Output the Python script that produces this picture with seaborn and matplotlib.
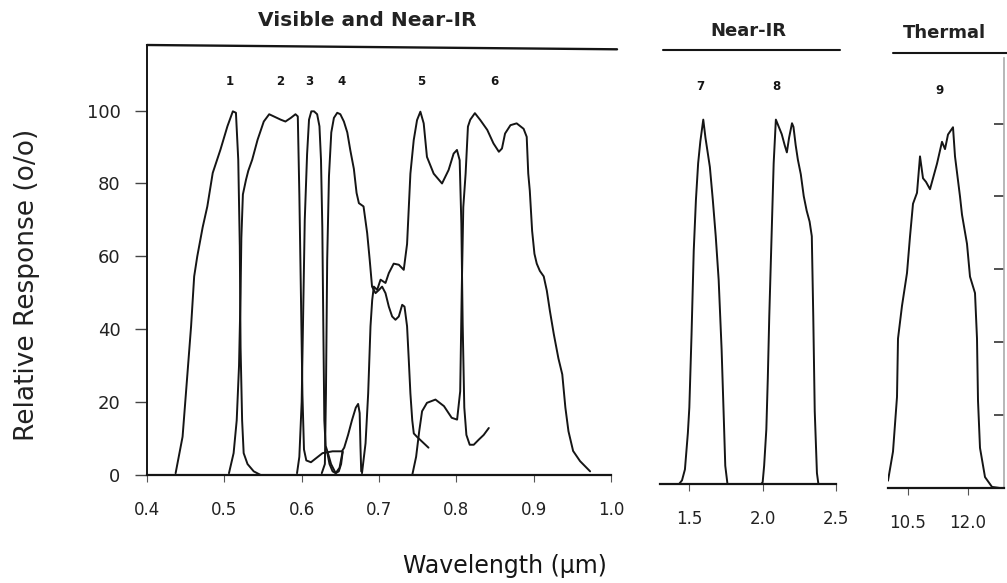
import numpy as np
import pandas as pd
import seaborn as sns
import matplotlib.pyplot as plt

# Relative response (%), one trace per band
band1_x = [0.437, 0.446, 0.450, 0.457, 0.461, 0.465, 0.472, 0.478, 0.485, 0.495, 0.504, 0.511, 0.515,
           0.518, 0.520, 0.521, 0.523, 0.525, 0.530, 0.538, 0.547]
band1_y = [0.5, 10.5, 21.5, 40.8, 54.5, 60, 68, 73.7, 82.9, 89.3, 95.7, 99.8, 99.4,
           86.5, 62.7, 35, 15, 6, 3, 1, 0]

band2_x = [0.506, 0.512, 0.516, 0.519, 0.521, 0.522, 0.524, 0.528, 0.531, 0.536, 0.543, 0.551, 0.558,
           0.564, 0.573, 0.579, 0.586, 0.592, 0.595, 0.597, 0.599, 0.601, 0.603, 0.606, 0.612, 0.618,
           0.627, 0.640, 0.652, 0.655, 0.660, 0.665, 0.670, 0.673, 0.675, 0.676, 0.677]
band2_y = [0.5, 6, 15, 30, 50, 65, 77, 81, 83.5, 86.5, 92, 97, 99,
           98.4, 97.5, 97, 98, 99, 98.4, 77, 50, 22, 7, 4, 3.5, 4.5,
           6, 6.5, 6.5, 7.5, 11, 15, 18.5, 19.5, 17, 8, 1]

band3_x = [0.594, 0.597, 0.600, 0.602, 0.604, 0.607, 0.6095, 0.6125, 0.616, 0.620, 0.623, 0.625,
           0.6267, 0.628, 0.6293, 0.631, 0.634, 0.638, 0.644, 0.649, 0.653]
band3_y = [0.5, 5, 20, 45, 70, 88, 97.5, 99.8, 99.8, 99, 95.7, 86.5,
           68, 40.8, 15, 8, 6, 3, 0.5, 2, 6.5]

band4_x = [0.626, 0.630, 0.6314, 0.633, 0.6353, 0.6383, 0.6417, 0.646, 0.650, 0.6546, 0.659, 0.663,
           0.6675, 0.671, 0.674, 0.680, 0.6847, 0.688, 0.691, 0.6955, 0.700, 0.704, 0.7084, 0.7127,
           0.717, 0.7213, 0.7256, 0.730, 0.733, 0.7363, 0.7385, 0.7406, 0.743, 0.745, 0.749, 0.758, 0.764]
band4_y = [0.5, 3, 22.4, 59, 82, 94, 98, 99.4, 99, 97, 94, 89,
           84, 77.4, 74.6, 73.7, 66.4, 59, 51.7, 49.9, 50.8, 51.7, 49.9, 46.2,
           43.5, 42.6, 43.5, 46.7, 46.2, 40.8, 31.6, 22.4, 15, 11.4, 10.5, 8.7, 7.5]

band5_x = [0.678, 0.6826, 0.686, 0.689, 0.6912, 0.6933, 0.6976, 0.702, 0.7084, 0.7127, 0.719, 0.7256,
           0.732, 0.7363, 0.7406, 0.7449, 0.7492, 0.7535, 0.7578, 0.762, 0.7707, 0.7815, 0.790, 0.7965,
           0.8008, 0.8043, 0.8065, 0.8082, 0.8103, 0.813, 0.8173, 0.8225, 0.829, 0.8354, 0.842]
band5_y = [0.5, 8.7, 22.4, 40.8, 48, 51.7, 50.8, 53.6, 52.7, 55.4, 58, 57.7,
           56.3, 63.4, 82.7, 91.9, 97.4, 99.7, 96.5, 87.3, 82.7, 80, 83.7, 88.2,
           89.2, 86.4, 69, 41.4, 18.5, 11, 8.3, 8.3, 9.7, 11, 12.9]

band6_x = [0.743, 0.748, 0.752, 0.7557, 0.762, 0.773, 0.784, 0.794, 0.801, 0.805, 0.807, 0.809, 0.812,
           0.815, 0.818, 0.824, 0.831, 0.840, 0.848, 0.855, 0.859, 0.863, 0.870, 0.878, 0.887, 0.891,
           0.893, 0.895, 0.898, 0.901, 0.904, 0.908, 0.913, 0.917, 0.921, 0.926, 0.932, 0.937, 0.941,
           0.945, 0.951, 0.960, 0.973]
band6_y = [0, 5, 12, 17.5, 19.8, 20.7, 18.9, 15.7, 15.2, 23, 50.6, 73.5, 82.7,
           95.6, 97.5, 99.3, 97.4, 94.7, 91, 88.7, 89.6, 93.7, 96, 96.5, 95, 92.8,
           82.7, 78, 67, 60.7, 58, 56, 54.5, 50.6, 45, 38.7, 32, 27.6, 18.5,
           12, 6.6, 3.8, 1]

band7_x = [1.43, 1.45, 1.47, 1.49, 1.50, 1.515, 1.53, 1.545, 1.56, 1.575, 1.595, 1.61, 1.625, 1.64,
           1.66, 1.68, 1.70, 1.72, 1.735, 1.745, 1.76]
band7_y = [0, 1, 4, 14, 21, 41, 64, 78, 88, 94, 100, 95, 91, 87,
           78, 68, 56, 37, 18, 5, 0]

band8_x = [1.99, 2.0, 2.01, 2.025, 2.035, 2.045, 2.06, 2.075, 2.09, 2.11, 2.13, 2.15, 2.165, 2.18,
           2.2, 2.21, 2.225, 2.24, 2.26, 2.28, 2.30, 2.32, 2.335, 2.345, 2.355, 2.37, 2.38]
band8_y = [0, 0.5, 5, 15, 29, 46, 67, 88, 100, 98, 96, 93, 91, 95,
           99, 98, 93, 89, 85, 79, 75, 72, 68, 46, 20, 3, 0]

band9_x = [10.0, 10.125, 10.225, 10.25, 10.35, 10.475, 10.55, 10.625, 10.725, 10.8, 10.875, 10.95,
           11.05, 11.225, 11.35, 11.425, 11.5, 11.625, 11.675, 11.8, 11.85, 11.975, 12.05, 12.175,
           12.225, 12.25, 12.3, 12.425, 12.6, 12.8]
band9_y = [2, 10, 25, 41, 50, 59, 69, 78, 81, 91, 85, 84,
           82, 89, 95, 93, 97, 99, 91, 80, 75, 67, 58, 53.5,
           41, 24, 11, 3, 0.3, 0]

# the small U-shaped leak under bands 3/4
leak_x = [0.633, 0.636, 0.640, 0.644, 0.648, 0.651, 0.653]
leak_y = [6.3, 3, 1, 0.5, 1, 3, 6.3]

band_names = ['1', '2', '3', '4', '5', '6', '7', '8', '9']
label_x = [0.507, 0.572, 0.610, 0.652, 0.755, 0.849, 1.572, 2.096, 11.28]
label_y = [108, 108, 108, 108, 108, 108, 109, 109, 109]

panel_titles = ['Visible and Near-IR', 'Near-IR', 'Thermal']
ticks_vis = [0.4, 0.5, 0.6, 0.7, 0.8, 0.9, 1.0]
ticks_nir = [1.5, 2.0, 2.5]
ticks_th = [10.5, 12.0]
ticks_resp = [0, 20, 40, 60, 80, 100]


def frame(xs, ys, name):
    return pd.DataFrame({'wl': xs, 'resp': ys, 'band': name})


vis = pd.concat([frame(band1_x, band1_y, '1'), frame(band2_x, band2_y, '2'),
                 frame(band3_x, band3_y, '3'), frame(band4_x, band4_y, '4'),
                 frame(band5_x, band5_y, '5'), frame(band6_x, band6_y, '6'),
                 frame(leak_x, leak_y, 'leak')], ignore_index=True)
nir = pd.concat([frame(band7_x, band7_y, '7'), frame(band8_x, band8_y, '8')], ignore_index=True)
thermal = frame(band9_x, band9_y, '9')

sns.set_theme(style='white')
plt.rcParams['font.family'] = ['DejaVu Sans']

W, H = 1007, 583
fig = plt.figure(figsize=(W / 100, H / 100), dpi=100)


def box(left, right, bottom, height=430):
    # pixel box -> figure fraction
    return [left / W, 1 - bottom / H, (right - left) / W, height / H]


ax1 = fig.add_axes(box(147, 611, 475))
ax2 = fig.add_axes(box(660, 836, 484))
ax3 = fig.add_axes(box(888, 1004, 488))

ink = '#151515'
for ax, df in [(ax1, vis), (ax2, nir), (ax3, thermal)]:
    sns.lineplot(data=df, x='wl', y='resp', units='band', estimator=None, sort=False,
                 color=ink, lw=1.4, ax=ax, legend=False)
    ax.set_ylim(0, 118)
    ax.set_xlabel('')
    ax.set_ylabel('')
    for s in ['top', 'right', 'left']:
        ax.spines[s].set_visible(False)
    ax.spines['bottom'].set_color(ink)
    ax.spines['bottom'].set_linewidth(1.6)
    ax.tick_params(axis='x', direction='out', length=5, width=0.8, color='#555555',
                   pad=14, labelsize=12, labelcolor='#222222', bottom=True)
    ax.tick_params(axis='y', left=False, labelleft=False)

ax1.set_xlim(0.4, 1.0)
ax1.set_xticks(ticks_vis)
ax1.set_xticklabels([f'{t:.1f}' for t in ticks_vis])
ax1.spines['left'].set_visible(True)
ax1.spines['left'].set_color(ink)
ax1.spines['left'].set_linewidth(1.4)
ax1.set_yticks(ticks_resp)
ax1.tick_params(axis='y', left=True, labelleft=True, direction='out', length=9, width=1.0,
                color='#444444', pad=10, labelsize=13, labelcolor='#222222')

ax2.set_xlim(1.3, 2.5)
ax2.set_xticks(ticks_nir)
ax2.set_xticklabels([f'{t:.1f}' for t in ticks_nir])

ax3.set_xlim(10.0, 12.9)
ax3.set_xticks(ticks_th)
ax3.set_xticklabels([f'{t:.1f}' for t in ticks_th])
ax3.spines['right'].set_visible(True)
ax3.spines['right'].set_color('#aaaaaa')
ax3.spines['right'].set_linewidth(1.2)
ax3.set_yticks(ticks_resp[1:])
ax3.tick_params(axis='y', right=True, labelright=False, direction='in', length=7, width=1.2,
                color='#333333')

# bracket lines above each panel
ax1.plot([0, 1.013], [1, 0.99], transform=ax1.transAxes, clip_on=False, color=ink, lw=1.7)
ax2.plot([0.017, 1.02], [1.01, 1.01], transform=ax2.transAxes, clip_on=False, color=ink, lw=1.5)
ax3.plot([0.043, 1.05], [1.012, 1.012], transform=ax3.transAxes, clip_on=False, color=ink, lw=1.5)

# band numbers
axes_for = [ax1] * 6 + [ax2] * 2 + [ax3]
for ax, name, lx, ly in zip(axes_for, band_names, label_x, label_y):
    ax.text(lx, ly, name, ha='center', va='center', fontsize=8.5, fontweight='bold', color=ink)

fig.text(367 / W, 1 - 21 / H, panel_titles[0], ha='center', va='center', fontsize=14.5,
         fontweight='bold', color='#222222')
fig.text(748 / W, 1 - 31 / H, panel_titles[1], ha='center', va='center', fontsize=13,
         fontweight='bold', color='#222222')
fig.text(944 / W, 1 - 33 / H, panel_titles[2], ha='center', va='center', fontsize=13,
         fontweight='bold', color='#222222')

fig.text(27 / W, 1 - 285 / H, 'Relative Response (o/o)', rotation=90, ha='center', va='center',
         fontsize=19, color='#222222')
fig.text(505 / W, 1 - 566 / H, 'Wavelength (\u03bcm)', ha='center', va='center', fontsize=17,
         color=ink)

fig.savefig('out.png', dpi=100)
